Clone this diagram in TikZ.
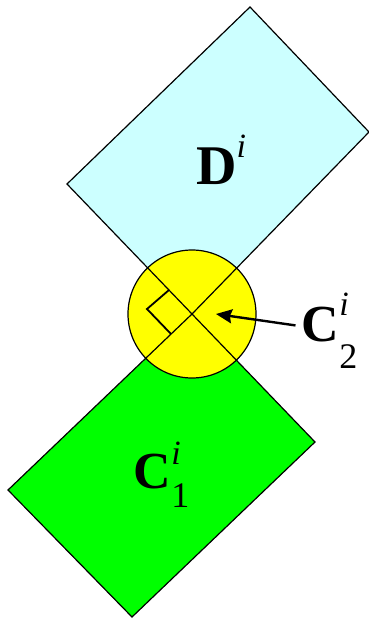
\documentclass[tikz,border=0pt]{standalone}
\usepackage{fontspec}
\setmainfont{Liberation Serif}
\usetikzlibrary{arrows.meta}
\definecolor{paleCyan}{RGB}{204,255,255}
\definecolor{brightGreen}{RGB}{0,255,0}
\definecolor{brightYellow}{RGB}{255,255,0}

\begin{document}
\begin{tikzpicture}[x=1pt,y=-1pt,
    edge/.style={draw=black, line width=1.2pt, line join=miter},
    lbl/.style={inner sep=0pt, anchor=base west}]
\useasboundingbox (0,0) rectangle (369,619);

% --- corners ---
  \coordinate (o)  at (192,314);
  \coordinate (dT) at (250,7);
  \coordinate (dR) at (369,132);
  \coordinate (dL) at (67,184);
  \coordinate (cR) at (315,442);
  \coordinate (cB) at (132,617);
  \coordinate (cL) at (8,490);

% blocks
  \fill[paleCyan] (dT) -- (dR) -- (o) -- (dL) -- cycle;
  \fill[brightGreen] (o) -- (cR) -- (cB) -- (cL) -- cycle;

  % joint
  \draw[edge, fill=brightYellow] (o) circle[radius=64];

  % outlines over the joint
  \draw[edge] (dT) -- (dR) -- (o) -- (dL) -- cycle;
  \draw[edge] (o) -- (cR) -- (cB) -- (cL) -- cycle;

  % right angle
  \draw[line width=1.8pt] (169,290) -- (147,309) -- (171,334);

  % labels
  \node[lbl] (d) at (196,184) {\fontsize{56}{60}\selectfont\bfseries D\raisebox{0.47em}{\fontsize{34}{34}\selectfont\mdseries\itshape i}};
  \node[lbl] (cone) at (133.5,488) {\fontsize{52}{60}\selectfont\bfseries C\rlap{\raisebox{0.45em}{\fontsize{34}{34}\selectfont\mdseries\itshape i}}\raisebox{-0.37em}{\fontsize{36}{36}\selectfont\mdseries 1}};
  \node[lbl, inner xsep=6pt] (ctwo) at (295.5,341) {\fontsize{52}{60}\selectfont\bfseries C\rlap{\raisebox{0.5em}{\fontsize{34}{34}\selectfont\mdseries\itshape i}}\raisebox{-0.52em}{\fontsize{36}{36}\selectfont\mdseries 2}};

  \coordinate (tip) at (216,314);
  \draw[-{Stealth[length=16pt,width=14pt,inset=2pt]}, line width=2.4pt] (ctwo) -- (tip);
\end{tikzpicture}
\end{document}
